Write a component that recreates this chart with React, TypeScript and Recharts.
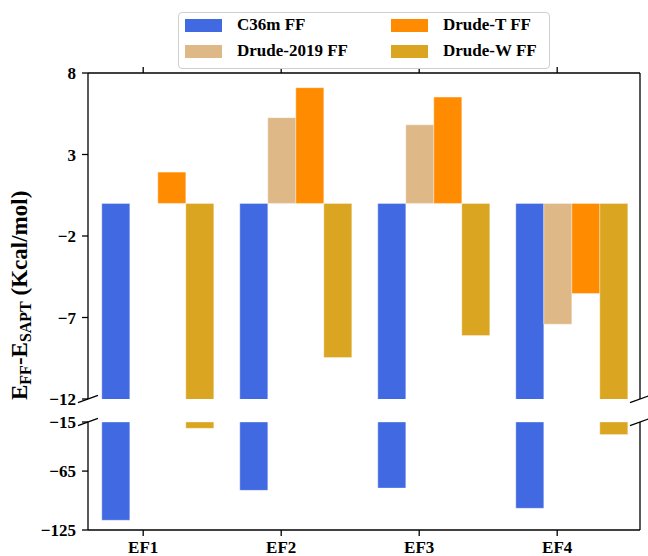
import React from "react"
import { BarChart, Bar, XAxis, YAxis } from "recharts"

const categories = ["EF1", "EF2", "EF3", "EF4"]
const c36m = [-115.1, -84.6, -82.3, -102.9]
const drude2019 = [null, 5.26, 4.82, -7.41]
const drudeT = [1.92, 7.1, 6.52, -5.53]
const drudeW = [-21.4, -9.46, -8.11, -27.8]
const upperTicks = [8, 3, -2, -7, -12]
const lowerTicks = [-15, -65, -125]

const series = [
  { key: "c36m", name: "C36m FF", color: "#4169e1" },
  { key: "drude2019", name: "Drude-2019 FF", color: "#deb887" },
  { key: "drudeT", name: "Drude-T FF", color: "#ff8c00" },
  { key: "drudeW", name: "Drude-W FF", color: "#daa520" },
]

const data = categories.map((name, i) => ({
  name,
  c36m: c36m[i],
  drude2019: drude2019[i],
  drudeT: drudeT[i],
  drudeW: drudeW[i],
}))

const W = 648
const LEFT = 88
const RIGHT = 7
// matplotlib puts the tick at the 2nd bar of each group, not the group centre
const BAND = (W - LEFT - RIGHT - 1) / categories.length
const HALF_BAR = (BAND * 0.8) / series.length / 2

const font = "'Liberation Serif', 'Times New Roman', serif"
const tickStyle = { fill: "#000", fontSize: 17, fontWeight: 700, fontFamily: font }
const fmt = (v: number) => (v < 0 ? `\u2212${-v}` : `${v}`)

function TopTick({ x, y }: any) {
  const cx = x - HALF_BAR
  return <line x1={cx} x2={cx} y1={y} y2={y - 6} stroke="#000" strokeWidth={1.3} />
}

function BottomTick({ x, y, payload }: any) {
  const cx = x - HALF_BAR
  return (
    <g>
      <line x1={cx} x2={cx} y1={y} y2={y + 6} stroke="#000" strokeWidth={1.3} />
      <text x={cx} y={y + 23} textAnchor="middle" {...tickStyle}>
        {payload.value}
      </text>
    </g>
  )
}

function bars() {
  return series.map((s) => (
    <Bar
      key={s.key}
      dataKey={s.key}
      name={s.name}
      yAxisId="l"
      fill={s.color}
      stroke="#ffffff"
      strokeOpacity={0.45}
      strokeWidth={0.8}
      isAnimationActive={false}
    />
  ))
}

function Legend() {
  const cols = [
    [series[0], series[1]],
    [series[2], series[3]],
  ]
  return (
    <div
      style={{
        position: "absolute",
        left: 178,
        top: 12,
        width: 370,
        height: 55,
        border: "1px solid #cfcfcf",
        borderRadius: 4,
        background: "#fff",
      }}
    >
      {cols.map((col, ci) =>
        col.map((s, ri) => (
          <div key={s.key}>
            <div
              style={{
                position: "absolute",
                left: ci === 0 ? 6 : 212,
                top: ri === 0 ? 6 : 32,
                width: 37,
                height: 13,
                background: s.color,
              }}
            />
            <div
              style={{
                position: "absolute",
                left: ci === 0 ? 58 : 264,
                top: ri === 0 ? 2 : 28,
                fontFamily: font,
                fontWeight: 700,
                fontSize: 17,
                lineHeight: "20px",
                whiteSpace: "nowrap",
              }}
            >
              {s.name}
            </div>
          </div>
        ))
      )}
    </div>
  )
}

export default function App() {
  return (
    <div style={{ position: "absolute", left: 0, top: 0, width: W, height: 556, background: "#fff" }}>
      <div style={{ position: "absolute", left: 0, top: 0 }}>
        <BarChart
          width={W}
          height={420}
          data={data}
          margin={{ top: 72, right: RIGHT, bottom: 21, left: 0 }}
          barCategoryGap="10%"
          barGap={0}
        >
          <XAxis
            dataKey="name"
            orientation="top"
            height={1}
            tickSize={0}
            tickMargin={0}
            interval={0}
            tick={<TopTick />}
            stroke="#000"
            strokeWidth={1.3}
          />
          <YAxis
            yAxisId="l"
            width={LEFT}
            domain={[-12, 8]}
            ticks={upperTicks}
            interval={0}
            allowDataOverflow
            tickFormatter={fmt}
            tick={tickStyle}
            tickMargin={6}
            stroke="#000"
            strokeWidth={1.3}
          />
          <YAxis
            yAxisId="r"
            orientation="right"
            width={1}
            domain={[-12, 8]}
            allowDataOverflow
            tick={false}
            tickLine={false}
            stroke="#000"
            strokeWidth={1.3}
          />
          {bars()}
        </BarChart>
      </div>
      <div style={{ position: "absolute", left: 0, top: 400 }}>
        <BarChart
          width={W}
          height={156}
          data={data}
          margin={{ top: 22, right: RIGHT, bottom: 0, left: 0 }}
          barCategoryGap="10%"
          barGap={0}
        >
          <XAxis
            dataKey="name"
            height={26}
            tickSize={0}
            tickMargin={0}
            interval={0}
            tick={<BottomTick />}
            stroke="#000"
            strokeWidth={1.3}
          />
          <YAxis
            yAxisId="l"
            width={LEFT}
            domain={[-125, -15]}
            ticks={lowerTicks}
            interval={0}
            allowDataOverflow
            tickFormatter={fmt}
            tick={tickStyle}
            tickMargin={6}
            stroke="#000"
            strokeWidth={1.3}
          />
          <YAxis
            yAxisId="r"
            orientation="right"
            width={1}
            domain={[-125, -15]}
            allowDataOverflow
            tick={false}
            tickLine={false}
            stroke="#000"
            strokeWidth={1.3}
          />
          {bars()}
        </BarChart>
      </div>
      <svg
        width={W}
        height={556}
        style={{ position: "absolute", left: 0, top: 0, pointerEvents: "none" }}
      >
        {/* broken-axis marks */}
        {[LEFT, W - RIGHT - 1].map((x) =>
          [399, 422].map((y) => (
            <line key={`${x}-${y}`} x1={x - 10} y1={y + 3.6} x2={x + 10} y2={y - 3.6} stroke="#000" strokeWidth={1.3} />
          ))
        )}
        <text
          transform="translate(27, 400) rotate(-90)"
          fontFamily={font}
          fontWeight={700}
          fontSize={23}
          fill="#000"
        >
          E<tspan fontSize={16} dy={4}>FF</tspan>
          <tspan dy={-4}>-E</tspan>
          <tspan fontSize={16} dy={4}>SAPT</tspan>
          <tspan dy={-4}> (Kcal/mol)</tspan>
        </text>
      </svg>
      <Legend />
    </div>
  )
}
